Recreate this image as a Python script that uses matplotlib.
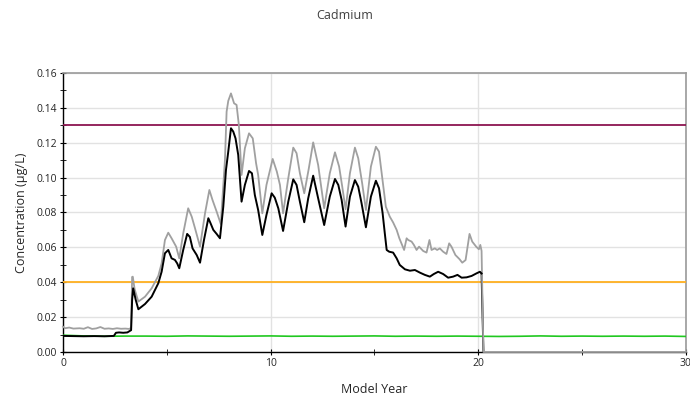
import matplotlib
matplotlib.use("Agg")
import matplotlib.pyplot as plt
from matplotlib.ticker import MultipleLocator, FormatStrFormatter

plt.rcParams['font.family'] = ['Open Sans', 'DejaVu Sans']

title = "Cadmium"
xlabel = "Model Year"
ylabel = "Concentration (µg/L)"

upper_limit = 0.13
lower_limit = 0.04

# Black series
black_years = [0, 0.5, 1.0, 1.5, 2.0, 2.45, 2.55, 2.7, 2.9, 3.1, 3.28, 3.33, 3.38, 3.5, 3.63,
               3.95, 4.27, 4.59, 4.75, 4.91, 5.07, 5.23, 5.39, 5.5, 5.6, 5.79, 5.98, 6.11,
               6.24, 6.44, 6.6, 6.79, 7.0, 7.1, 7.24, 7.4, 7.56, 7.72, 7.85, 7.96, 8.09,
               8.2, 8.31, 8.44, 8.6, 8.76, 8.96, 9.1, 9.24, 9.4, 9.6, 9.8, 10.05, 10.2,
               10.37, 10.6, 10.85, 11.09, 11.25, 11.41, 11.62, 11.81, 12.05, 12.29, 12.58,
               12.85, 13.1, 13.26, 13.42, 13.61, 13.82, 14.06, 14.22, 14.38, 14.59, 14.83,
               15.07, 15.22, 15.39, 15.5, 15.59, 15.71, 15.9, 16.07, 16.22, 16.47, 16.71,
               16.95, 17.19, 17.43, 17.67, 17.86, 18.07, 18.31, 18.55, 18.79, 19.0, 19.2,
               19.44, 19.68, 19.92, 20.08, 20.16, 20.25, 30.0]
black_vals = [0.0092, 0.0091, 0.0090, 0.0091, 0.0090, 0.0092, 0.0110, 0.0112, 0.0110, 0.0112,
              0.0125, 0.0300, 0.0365, 0.0300, 0.0245,
              0.0275, 0.0317, 0.0394, 0.0460, 0.0566, 0.0585, 0.0537, 0.0528, 0.0508, 0.0480,
              0.0585, 0.0677, 0.0660, 0.0594, 0.0556, 0.0512, 0.0642, 0.0767, 0.0740, 0.0700,
              0.0677, 0.0652, 0.0833, 0.1044, 0.1149, 0.1283, 0.1264, 0.1225, 0.1130, 0.0862,
              0.0958, 0.1038, 0.1025, 0.0900, 0.0814, 0.0671, 0.0786, 0.0910, 0.0885, 0.0824,
              0.0694, 0.0862, 0.0990, 0.0958, 0.0862, 0.0744, 0.0881, 0.1011, 0.0881, 0.0728,
              0.0891, 0.0992, 0.0958, 0.0872, 0.0719, 0.0891, 0.0986, 0.0948, 0.0853, 0.0715,
              0.0891, 0.0982, 0.0939, 0.0800, 0.0680, 0.0585, 0.0575, 0.0570, 0.0537, 0.0499,
              0.0474, 0.0466, 0.0470, 0.0455, 0.0442, 0.0432, 0.0447, 0.0460, 0.0447, 0.0426,
              0.0432, 0.0442, 0.0426, 0.0428, 0.0436, 0.0451, 0.0460, 0.0450, 0.0, 0.0]

# Gray series
gray_years = [0, 0.1, 0.3, 0.5, 0.8, 1.0, 1.2, 1.4, 1.6, 1.8, 2.0, 2.2, 2.4, 2.6, 2.8, 3.0,
              3.2, 3.28, 3.33, 3.36, 3.45, 3.63, 3.95, 4.27, 4.59, 4.75, 4.91, 5.07, 5.23,
              5.45, 5.6, 5.79, 6.03, 6.2, 6.36, 6.6, 6.84, 7.05, 7.2, 7.4, 7.6, 7.8, 7.88,
              7.96, 8.09, 8.24, 8.36, 8.47, 8.6, 8.76, 8.96, 9.14, 9.3, 9.4, 9.6, 9.8, 10.1,
              10.3, 10.45, 10.6, 10.85, 11.09, 11.25, 11.41, 11.62, 11.84, 12.05, 12.29,
              12.58, 12.85, 13.1, 13.3, 13.45, 13.61, 13.82, 14.06, 14.22, 14.41, 14.59,
              14.83, 15.07, 15.22, 15.39, 15.55, 15.74, 15.9, 16.07, 16.2, 16.3, 16.43,
              16.55, 16.63, 16.79, 16.9, 17.03, 17.15, 17.35, 17.51, 17.65, 17.75, 17.91,
              18.02, 18.15, 18.31, 18.47, 18.6, 18.71, 18.9, 19.1, 19.23, 19.39, 19.58,
              19.71, 19.9, 20.03, 20.1, 20.16, 20.25, 30.0]
gray_vals = [0.0145, 0.0136, 0.0140, 0.0134, 0.0136, 0.0133, 0.0142, 0.0132, 0.0135, 0.0143,
             0.0133, 0.0135, 0.0132, 0.0136, 0.0133, 0.0134, 0.0132, 0.0140, 0.0430, 0.0432,
             0.0360, 0.0289, 0.0317, 0.0365, 0.0436, 0.0508, 0.0642, 0.0684, 0.0652, 0.0604,
             0.0537, 0.0680, 0.0824, 0.0776, 0.0709, 0.0604, 0.0795, 0.0929, 0.0872, 0.0805,
             0.0734, 0.1100, 0.1378, 0.1440, 0.1483, 0.1426, 0.1417, 0.1302, 0.1015, 0.1168,
             0.1254, 0.1225, 0.1082, 0.1015, 0.0795, 0.0958, 0.1107, 0.1034, 0.0958, 0.0795,
             0.0996, 0.1172, 0.1140, 0.1025, 0.0910, 0.1053, 0.1202, 0.1072, 0.0824, 0.1025,
             0.1145, 0.1063, 0.0948, 0.0818, 0.1025, 0.1172, 0.1111, 0.0967, 0.0814, 0.1063,
             0.1177, 0.1149, 0.0986, 0.0833, 0.0776, 0.0743, 0.0700, 0.0652, 0.0623, 0.0585,
             0.0652, 0.0642, 0.0633, 0.0614, 0.0585, 0.0604, 0.0579, 0.0570, 0.0642, 0.0585,
             0.0594, 0.0585, 0.0594, 0.0575, 0.0562, 0.0623, 0.0604, 0.0556, 0.0532, 0.0512,
             0.0527, 0.0677, 0.0633, 0.0604, 0.0589, 0.0614, 0.0580, 0.0, 0.0]

# Green series
green_years = [0, 1, 2, 3, 4, 5, 6, 7, 8, 9, 10, 11, 12, 13, 14, 15, 16, 17, 18, 19, 20,
               21, 22, 23, 24, 25, 26, 27, 28, 29, 30]
green_vals = [0.0096, 0.0092, 0.0090, 0.0091, 0.0091, 0.0090, 0.0092, 0.0091, 0.0090, 0.0091,
              0.0092, 0.0090, 0.0091, 0.0090, 0.0091, 0.0092, 0.0090, 0.0091, 0.0090, 0.0091,
              0.0090, 0.0089, 0.0090, 0.0092, 0.0090, 0.0091, 0.0090, 0.0091, 0.0090, 0.0091,
              0.0089]

fig = plt.figure(figsize=(6.9, 4.19), dpi=100)
ax = fig.add_axes([0.0913, 0.16, 0.9027, 0.6658])

ax.axhline(upper_limit, color='#8c1550', lw=1.3, zorder=3)
ax.axhline(lower_limit, color='#ffb020', lw=1.3, zorder=3)
ax.plot(green_years, green_vals, color='#20c820', lw=1.2, zorder=4)
ax.plot(gray_years, gray_vals, color='#a0a0a0', lw=1.3, zorder=5, clip_on=False)
ax.plot(black_years[:-2], black_vals[:-2], color='black', lw=1.4, zorder=6)
ax.plot(black_years[-3:-1], black_vals[-3:-1], color='black', lw=1.4, zorder=4)

ax.set_xlim(0, 30)
ax.set_ylim(0, 0.16)
ax.xaxis.set_major_locator(MultipleLocator(10))
ax.xaxis.set_minor_locator(MultipleLocator(5))
ax.yaxis.set_major_locator(MultipleLocator(0.02))
ax.yaxis.set_minor_locator(MultipleLocator(0.01))
ax.yaxis.set_major_formatter(FormatStrFormatter('%.2f'))

ax.grid(True, which='major', color='#e2e2e2', lw=1.0, zorder=0)
ax.set_axisbelow(True)

for s in ['top', 'right']:
    ax.spines[s].set_color('#9a9a9a')
    ax.spines[s].set_linewidth(1.2)
for s in ['left', 'bottom']:
    ax.spines[s].set_color('black')
    ax.spines[s].set_linewidth(1.0)

ax.tick_params(axis='both', which='both', direction='inout', color='black',
               labelsize=7.5, labelcolor='#262626', pad=2)
ax.tick_params(axis='both', which='major', length=5)
ax.tick_params(axis='both', which='minor', length=4)

ax.set_xlabel(xlabel, fontsize=9, color='#262626', labelpad=10)
ax.set_ylabel(ylabel, fontsize=9, color='#262626', labelpad=6)
fig.text(0.5, 0.963, title, ha='center', va='center', fontsize=9, color='#404040')

fig.savefig('out.png', dpi=100)
